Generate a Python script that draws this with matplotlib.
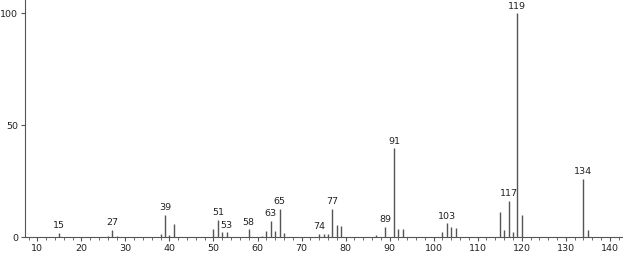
import numpy as np
import matplotlib.pyplot as plt

# m/z values and relative abundances
mz = [15, 26, 27, 28, 38, 39, 40, 41, 50, 51, 52, 53, 56, 58, 61, 62, 63, 64,
      65, 66, 74, 75, 76, 77, 78, 79, 87, 89, 91, 92, 93, 102, 103, 104, 105,
      115, 116, 117, 118, 119, 120, 134, 135]
intensity = [2.1, 0.6, 3.4, 0.5, 1.6, 10.0, 1.2, 5.9, 3.5, 7.9, 2.4, 2.2, 0.3,
             3.6, 0.6, 2.7, 7.3, 2.7, 12.6, 1.8, 1.6, 1.3, 1.6, 12.6, 5.7, 4.9,
             0.9, 4.8, 39.7, 3.9, 3.6, 2.2, 6.2, 4.6, 4.2, 11.3, 3.1, 16.2, 2.5,
             100.0, 9.9, 26.0, 3.2]
labeled = [15, 27, 39, 51, 53, 58, 63, 65, 74, 77, 89, 91, 103, 117, 119, 134]

fig = plt.figure(figsize=(6.23, 2.54), dpi=100)
ax = fig.add_axes([25 / 623, 16.7 / 254, 598 / 623, 237.3 / 254])

ax.vlines(mz, 0, intensity, colors='#555555', linewidth=1.0)
for m, v in zip(mz, intensity):
    if m in labeled:
        ax.text(m, v + 1.2, str(m), ha='center', va='bottom', fontsize=6.8,
                color='#222222')

ax.set_xlim(7.2, 143)
ax.set_ylim(0, 105.9)
ax.set_xticks(np.arange(10, 141, 10))
ax.set_xticks(np.arange(8, 143, 2), minor=True)
ax.set_yticks([0, 50, 100])
ax.tick_params(axis='both', which='major', labelsize=6.8, length=3,
               width=0.8, color='#555555', pad=2, labelcolor='#222222')
ax.tick_params(axis='x', which='minor', length=2, width=0.6, color='#555555')
ax.tick_params(axis='y', which='minor', length=0)
for s in ['top', 'right']:
    ax.spines[s].set_visible(False)
for s in ['left', 'bottom']:
    ax.spines[s].set_color('#555555')
    ax.spines[s].set_linewidth(0.8)

fig.savefig('out.png', dpi=100)
